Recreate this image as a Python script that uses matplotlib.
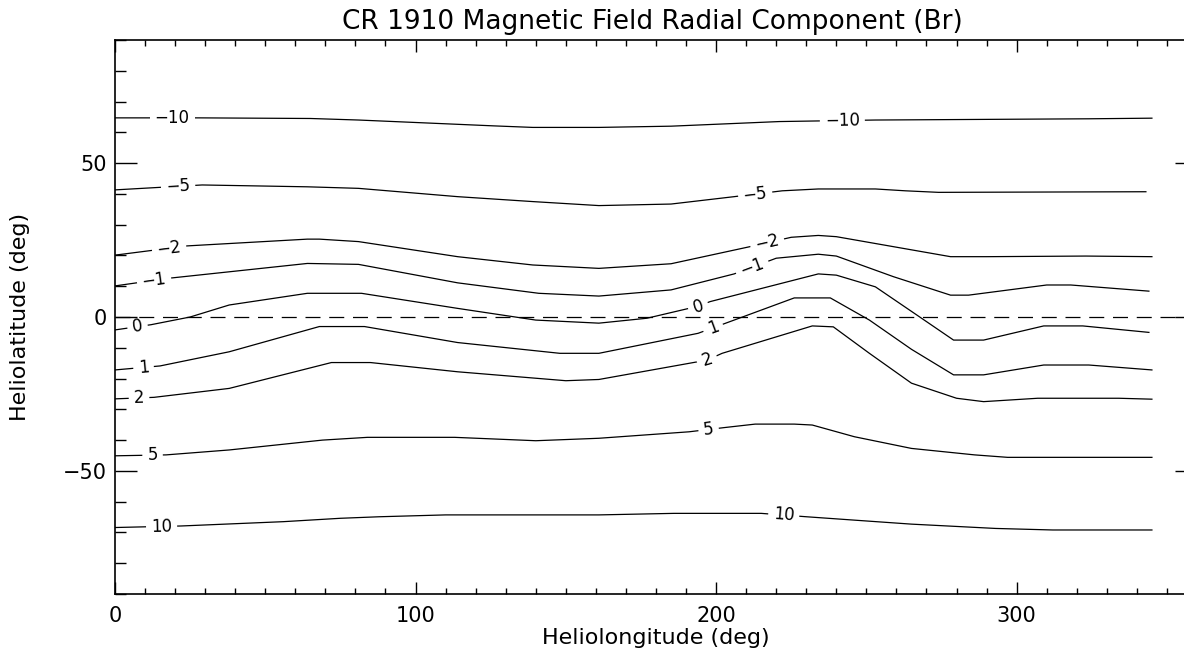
import numpy as np
import matplotlib
matplotlib.use("Agg")
import matplotlib.pyplot as plt
from matplotlib.ticker import MultipleLocator

# contour levels of Br and the line each one traces (lon, lat)
levels = [-10, -5, -2, -1, 0, 1, 2, 5, 10]

lon_m10 = [0, 28, 65, 81, 126, 139, 161, 185, 221, 253, 324, 345]
lat_m10 = [64.7, 64.7, 64.5, 64.0, 62.1, 61.6, 61.6, 62.0, 63.5, 64.0, 64.4, 64.6]

lon_m5 = [0, 29, 64, 81, 114, 139, 161, 185, 206, 222, 234, 253, 263, 274, 343]
lat_m5 = [41.3, 42.9, 42.3, 41.8, 39.1, 37.5, 36.2, 36.7, 39.1, 41.0, 41.6, 41.6, 41.0, 40.5, 40.7]

lon_m2 = [0, 24, 64, 68, 81, 114, 139, 161, 185, 211, 225, 234, 240, 278, 290, 323, 345]
lat_m2 = [20.1, 23.1, 25.3, 25.3, 24.5, 19.6, 16.9, 15.8, 17.3, 22.8, 25.9, 26.5, 26.1, 19.6, 19.6, 19.8, 19.6]

lon_m1 = [0, 18, 64, 81, 114, 141, 161, 185, 206, 220, 234, 240, 259, 278, 284, 310, 318, 344]
lat_m1 = [10.1, 12.6, 17.4, 17.1, 11.1, 7.7, 6.8, 8.8, 14.0, 19.1, 20.4, 19.8, 13.1, 7.1, 7.1, 10.4, 10.4, 8.4]

lon_0 = [0, 12, 25, 38, 64, 82, 114, 140, 161, 177, 194, 198, 234, 240, 253, 267, 279, 289, 309, 322, 344]
lat_0 = [-4.2, -2.5, 0, 3.9, 7.7, 7.7, 2.8, -1.0, -2.0, -0.4, 3.5, 5.0, 14.0, 13.6, 9.8, 0.5, -7.5, -7.5, -2.9, -2.9, -5.0]

lon_1 = [0, 15, 38, 68, 83, 114, 148, 161, 194, 206, 226, 238, 251, 265, 279, 289, 309, 324, 345]
lat_1 = [-17.2, -15.9, -11.3, -3.1, -3.1, -8.3, -11.8, -11.8, -5.3, -1.0, 6.2, 6.2, -1.0, -10.5, -18.8, -18.8, -15.6, -15.6, -17.2]

lon_2 = [0, 13, 38, 72, 85, 114, 150, 161, 197, 202, 232, 239, 251, 265, 280, 289, 307, 334, 345]
lat_2 = [-26.6, -26.1, -23.2, -14.8, -14.8, -17.8, -20.7, -20.3, -14.0, -11.8, -2.9, -3.2, -11.8, -21.5, -26.4, -27.5, -26.4, -26.4, -26.7]

lon_5 = [0, 17, 38, 69, 84, 113, 140, 161, 191, 203, 213, 226, 232, 246, 265, 286, 297, 345]
lat_5 = [-45.1, -44.8, -43.2, -40.0, -39.1, -39.1, -40.2, -39.4, -37.3, -35.9, -34.8, -34.8, -35.1, -38.9, -42.7, -44.8, -45.6, -45.6]

lon_10 = [0, 22, 56, 75, 88, 110, 161, 186, 215, 230, 246, 265, 293, 312, 345]
lat_10 = [-68.4, -67.9, -66.5, -65.4, -64.9, -64.3, -64.3, -63.8, -63.8, -64.9, -66.0, -67.3, -68.7, -69.2, -69.2]

contours = {
    -10: (lon_m10, lat_m10), -5: (lon_m5, lat_m5), -2: (lon_m2, lat_m2),
    -1: (lon_m1, lat_m1), 0: (lon_0, lat_0), 1: (lon_1, lat_1),
    2: (lon_2, lat_2), 5: (lon_5, lat_5), 10: (lon_10, lat_10),
}

# longitudes where the level labels sit (left and right copy)
label_lon_left = [19, 21, 18, 13, 7.5, 9.5, 8, 12.5, 15.5]
label_lon_right = [242, 213, 217, 212, 194, 199, 197, 197.5, 222.5]

W, H = 1184, 654
fig = plt.figure(figsize=(W / 100, H / 100), dpi=100)
# right spine sits just past the image edge, like the original
ax = fig.add_axes([115 / W, 60 / H, 1082 / W, 554 / H])
ax.set_xlim(0, 360)
ax.set_ylim(-90, 90)
ax.set_axisbelow(False)

for lev in levels:
    lon, lat = contours[lev]
    ax.plot(lon, lat, color='black', lw=0.9, zorder=2)

ax.axhline(0, color='black', lw=0.9, linestyle=(0, (12, 7)), zorder=2.3)

def label_angle(lon, lat, x):
    x1, x2 = x - 4, x + 4
    p1 = ax.transData.transform((x1, np.interp(x1, lon, lat)))
    p2 = ax.transData.transform((x2, np.interp(x2, lon, lat)))
    return np.degrees(np.arctan2(p2[1] - p1[1], p2[0] - p1[0]))

for i, lev in enumerate(levels):
    lon, lat = contours[lev]
    txt = f'{lev}'.replace('-', '\u2212')
    for x in (label_lon_left[i], label_lon_right[i]):
        y = np.interp(x, lon, lat)
        ang = label_angle(lon, lat, x)
        ax.text(x, y, txt, ha='center', va='center', fontsize=12,
                rotation=ang, rotation_mode='anchor', zorder=2.2,
                bbox=dict(boxstyle='square,pad=0.3', fc='white', ec='none'))

ax.xaxis.set_major_locator(MultipleLocator(100))
ax.xaxis.set_minor_locator(MultipleLocator(10))
ax.yaxis.set_major_locator(MultipleLocator(50))
ax.yaxis.set_minor_locator(MultipleLocator(10))
ax.tick_params(axis='both', which='both', direction='in', top=True, right=True,
               width=1.0, labelsize=15)
ax.tick_params(axis='x', which='major', length=8.6, pad=9)
ax.tick_params(axis='x', which='minor', length=4)
ax.tick_params(axis='y', which='major', length=15.8, pad=6)
ax.tick_params(axis='y', which='minor', length=7.9)
for sp in ax.spines.values():
    sp.set_linewidth(1.2)

fig.text(652 / W, 1 - 22 / H, 'CR 1910 Magnetic Field Radial Component (Br)',
         ha='center', va='center', fontsize=19)
fig.text(656 / W, 1 - 638 / H, 'Heliolongitude (deg)', ha='center', va='center', fontsize=16)
fig.text(20 / W, 1 - 317 / H, 'Heliolatitude (deg)', ha='center', va='center',
         rotation=90, fontsize=16)

fig.savefig('out.png', dpi=100)
